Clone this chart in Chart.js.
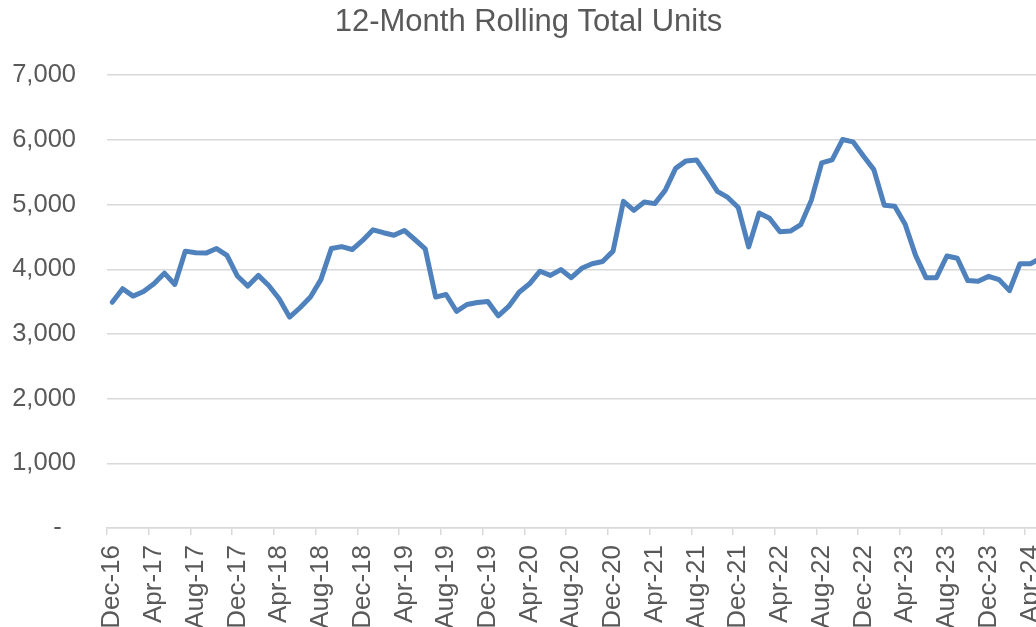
<!DOCTYPE html>
<html>
<head>
<meta charset="utf-8">
<script src="https://cdn.jsdelivr.net/npm/chart.js@4/dist/chart.umd.min.js"></script>
<style>
    html, body { margin: 0; padding: 0; overflow: hidden; background: #ffffff; }
    #wrap { width: 1063px; height: 627px; }
</style>
</head>
<body>
<div id="wrap"><canvas id="rollingChart"></canvas></div>
<script>
// Month labels, Dec-16 .. May-24
const months = [
    'Dec-16',
    'Jan-17', 'Feb-17', 'Mar-17', 'Apr-17', 'May-17', 'Jun-17', 'Jul-17', 'Aug-17', 'Sep-17', 'Oct-17', 'Nov-17', 'Dec-17',
    'Jan-18', 'Feb-18', 'Mar-18', 'Apr-18', 'May-18', 'Jun-18', 'Jul-18', 'Aug-18', 'Sep-18', 'Oct-18', 'Nov-18', 'Dec-18',
    'Jan-19', 'Feb-19', 'Mar-19', 'Apr-19', 'May-19', 'Jun-19', 'Jul-19', 'Aug-19', 'Sep-19', 'Oct-19', 'Nov-19', 'Dec-19',
    'Jan-20', 'Feb-20', 'Mar-20', 'Apr-20', 'May-20', 'Jun-20', 'Jul-20', 'Aug-20', 'Sep-20', 'Oct-20', 'Nov-20', 'Dec-20',
    'Jan-21', 'Feb-21', 'Mar-21', 'Apr-21', 'May-21', 'Jun-21', 'Jul-21', 'Aug-21', 'Sep-21', 'Oct-21', 'Nov-21', 'Dec-21',
    'Jan-22', 'Feb-22', 'Mar-22', 'Apr-22', 'May-22', 'Jun-22', 'Jul-22', 'Aug-22', 'Sep-22', 'Oct-22', 'Nov-22', 'Dec-22',
    'Jan-23', 'Feb-23', 'Mar-23', 'Apr-23', 'May-23', 'Jun-23', 'Jul-23', 'Aug-23', 'Sep-23', 'Oct-23', 'Nov-23', 'Dec-23',
    'Jan-24', 'Feb-24', 'Mar-24', 'Apr-24', 'May-24'
];

// 12-month rolling total units
const rollingUnits = [
    3490,
    3700, 3585, 3655, 3775, 3940, 3765, 4280, 4255, 4250, 4320, 4215, 3895,
    3740, 3905, 3750, 3545, 3260, 3405, 3570, 3840, 4320, 4350, 4305, 4445,
    4610, 4565, 4525, 4600, 4460, 4315, 3570, 3610, 3350, 3455, 3485, 3500,
    3280, 3425, 3645, 3775, 3970, 3905, 3995, 3870, 4015, 4085, 4120, 4280,
    5050, 4910, 5040, 5015, 5220, 5560, 5675, 5690, 5455, 5205, 5110, 4955,
    4345, 4870, 4790, 4580, 4590, 4690, 5065, 5645, 5690, 6005, 5970, 5750,
    5540, 4990, 4975, 4695, 4215, 3870, 3870, 4205, 4170, 3825, 3815, 3890,
    3840, 3670, 4085, 4085, 4170
];

const yTicks = [0, 1000, 2000, 3000, 4000, 5000, 6000, 7000];

const textColor = '#595959';
const gridColor = '#d9d9d9';
const fontFamily = '"Liberation Sans", Arial, sans-serif';

const ctx = document.getElementById('rollingChart').getContext('2d');
new Chart(ctx, {
    type: 'line',
    data: {
        labels: months,
        datasets: [{
            label: '12-Month Rolling Total Units',
            data: rollingUnits,
            borderColor: '#4f81bd',
            borderWidth: 5,
            borderCapStyle: 'round',
            borderJoinStyle: 'round',
            pointRadius: 0,
            tension: 0,
            fill: false
        }]
    },
    options: {
        responsive: true,
        maintainAspectRatio: false,
        animation: false,
        layout: {
            padding: { top: 4, left: 11, right: 17, bottom: 0 }
        },
        plugins: {
            legend: { display: false },
            tooltip: { enabled: false },
            title: {
                display: true,
                text: '12-Month Rolling Total Units',
                color: textColor,
                font: { family: fontFamily, size: 31, weight: 'normal' },
                padding: { top: 0, bottom: 34 }
            }
        },
        scales: {
            x: {
                offset: true,
                grid: {
                    offset: true,
                    drawOnChartArea: false,
                    drawTicks: true,
                    tickLength: 7,
                    lineWidth: 1.5,
                    color: c => (c.index % 4 === 0 ? gridColor : 'rgba(0,0,0,0)')
                },
                border: { display: true, color: gridColor, width: 1.5 },
                ticks: {
                    autoSkip: false,
                    maxRotation: 90,
                    minRotation: 90,
                    padding: 10,
                    color: textColor,
                    font: { family: fontFamily, size: 26 },
                    callback: (val, i) => (i % 4 === 0 ? months[i] : '')
                },
                afterFit: axis => {
                    // keep the plot edges where the original has them
                    axis.paddingLeft = 0;
                    axis.paddingRight = 0;
                    axis.height = 99;
                }
            },
            y: {
                min: 0,
                max: 7000,
                afterBuildTicks: axis => {
                    axis.ticks = yTicks.map(v => ({ value: v }));
                },
                afterFit: axis => {
                    axis.width = 96;
                },
                grid: {
                    drawTicks: false,
                    color: gridColor,
                    lineWidth: 1.5
                },
                border: { display: false },
                ticks: {
                    padding: 31,
                    color: textColor,
                    font: { family: fontFamily, size: 25.5 },
                    callback: v => (v === 0 ? '-  ' : v.toLocaleString('en-US'))
                }
            }
        }
    }
});
</script>
</body>
</html>
